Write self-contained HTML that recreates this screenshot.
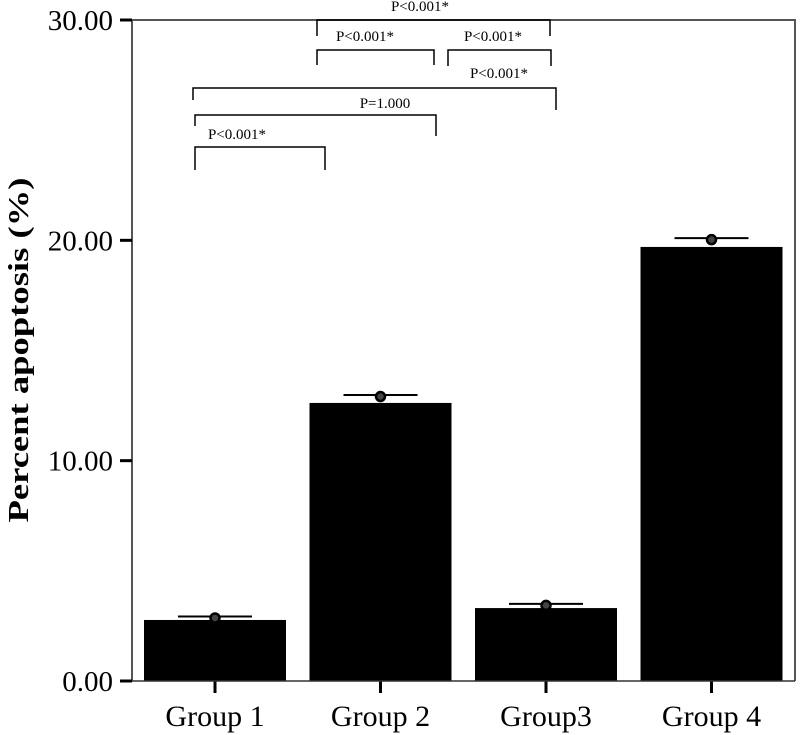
<!DOCTYPE html>
<html><head><meta charset="utf-8"><style>body{margin:0;background:#fff}svg{display:block;font-family:"Liberation Serif",serif}</style></head>
<body>
<svg id="chart" width="800" height="735" viewBox="0 0 800 735"></svg>
<script>
const categories=["Group 1","Group 2","Group3","Group 4"];
const means=[2.77,12.62,3.31,19.7];
const errUpper=[2.93,12.98,3.5,20.1];
const yTicks=[0,10,20,30];
const yTickLabels=["0.00","10.00","20.00","30.00"];
const compLabels=["P<0.001*","P<0.001*","P<0.001*","P<0.001*","P=1.000","P<0.001*"];
const NS="http://www.w3.org/2000/svg";
const svg=document.getElementById('chart');
const L=132,R=795,T=20,B=681,band=166,bw=142;
const y=v=>B-(v/30)*(B-T);
function el(t,a,p){const e=document.createElementNS(NS,t);for(const k in a)e.setAttribute(k,a[k]);(p||svg).appendChild(e);return e;}
categories.forEach((c,i)=>{
 const cx=215+i*band*0.997;
 const b=el('rect',{x:cx-bw/2,y:y(means[i]),width:bw,height:B-y(means[i]),fill:'#000'});
 
 
 const e=el('line',{x1:cx-37,x2:cx+37,y1:y(errUpper[i]),y2:y(errUpper[i]),stroke:'#000','stroke-width':2});
 
 
 const m=el('circle',{cx:cx,cy:y(errUpper[i])+1.5,r:4.5,fill:'#444',stroke:'#000','stroke-width':2.5});
 
 
 const tk=el('line',{x1:cx,x2:cx,y1:B,y2:B+12,stroke:'#000','stroke-width':3});
 
 
 const t=el('text',{x:cx,y:726,'font-size':30,'text-anchor':'middle',fill:'#000'});
 t.textContent=c;
 
 
});
el('path',{d:`M${L} ${B}V${T}H${R}V${B}`,fill:'none',stroke:'#555','stroke-width':2});
el('line',{x1:L,x2:R,y1:B,y2:B,stroke:'#333','stroke-width':1.5});
yTicks.forEach((v,i)=>{
 const tk=el('line',{x1:120,x2:L,y1:y(v),y2:y(v),stroke:'#000','stroke-width':3});
 
 
 const t=el('text',{x:113,y:y(v)+10,'font-size':29,'text-anchor':'end',fill:'#000'});
 t.textContent=yTickLabels[i];
 
 
});
const yt=el('text',{x:0,y:0,'font-size':28,'font-weight':'bold','text-anchor':'middle',textLength:345,lengthAdjust:'spacingAndGlyphs',transform:'translate(28,350) rotate(-90)'});
yt.textContent='Percent apoptosis (%)';


const br=[[317,550,20,36,36,420,11],[317,434,50,65,65,365,41],[448,551,50,66,66,493,41],[193,556,88,100,110,499,78],[195,436,115,126,136,385,108],[195,325,147,170,170,237,139]];
br.forEach((b,i)=>{
 const p=el('path',{d:`M${b[0]} ${b[3]}V${b[2]}H${b[1]}V${b[4]}`,fill:'none',stroke:'#000','stroke-width':1.5});
 
 
 const t=el('text',{x:b[5],y:b[6],'font-size':15,'text-anchor':'middle',fill:'#000'});
 t.textContent=compLabels[i];
 
 
});
</script>
</body></html>
